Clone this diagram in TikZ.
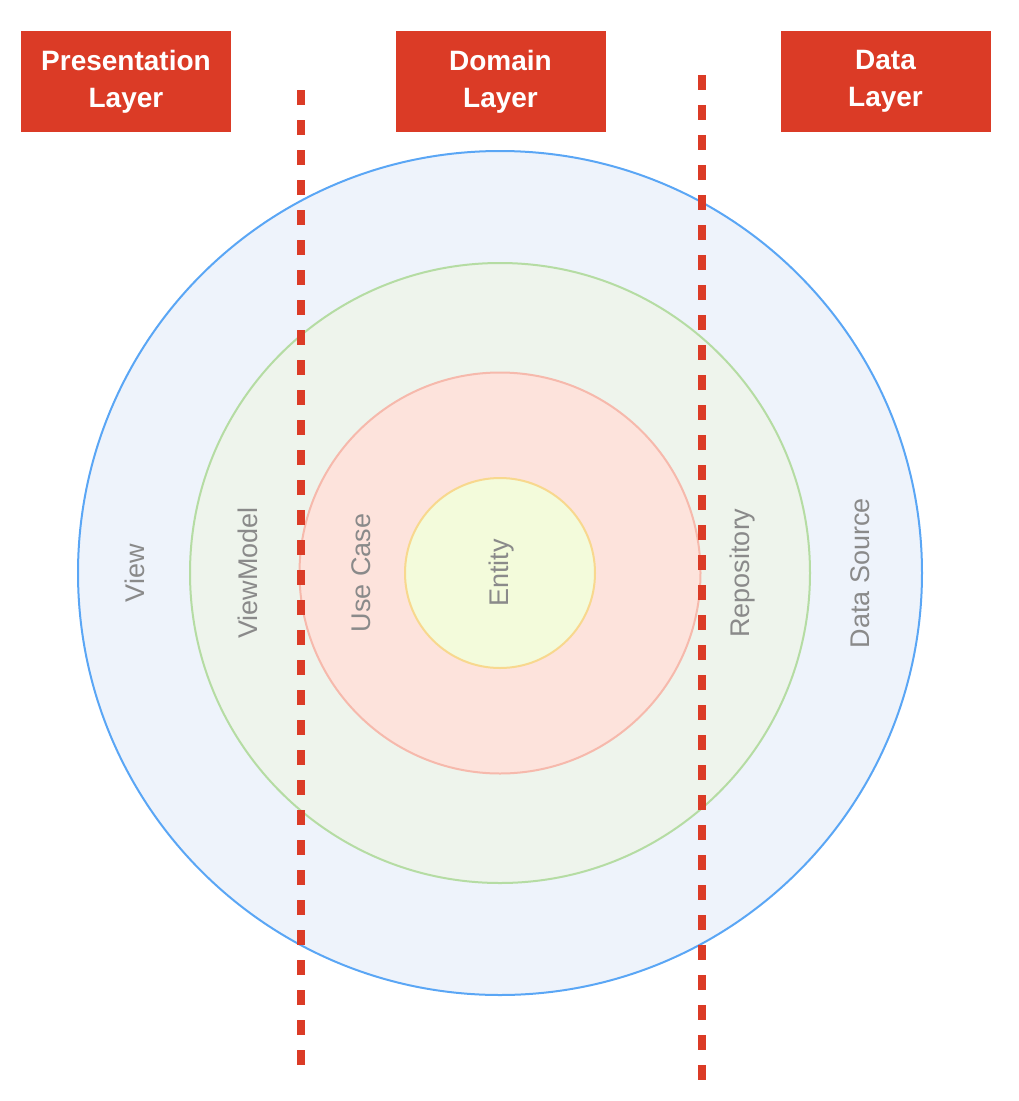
\documentclass[tikz,border=0pt]{standalone}
\usepackage{fontspec}
\setmainfont{Liberation Sans}
\definecolor{layerred}{HTML}{DB3B26}
\definecolor{outerfill}{HTML}{EEF3FB}
\definecolor{outerdraw}{HTML}{5AA6F5}
\definecolor{greenfill}{HTML}{EEF4EC}
\definecolor{greendraw}{HTML}{B5DCA3}
\definecolor{redfill}{HTML}{FDE3DC}
\definecolor{reddraw}{HTML}{F6B9AC}
\definecolor{yelfill}{HTML}{F3FBDB}
\definecolor{yeldraw}{HTML}{F8D88E}
\definecolor{labelgray}{HTML}{8A8A8A}
\tikzset{
  layerbox/.style={fill=layerred, draw=none, minimum width=210pt, minimum height=101pt,
    inner sep=0pt, text=white, align=center, font=\fontsize{28}{37}\selectfont\bfseries},
  ring/.style={circle, inner sep=0pt, line width=2pt},
  ringlabel/.style={rotate=90, text=labelgray, font=\fontsize{27}{32}\selectfont, inner sep=0pt},
  divider/.style={draw=layerred, line width=8pt, dash pattern=on 15pt off 15pt}
}
\begin{document}
\begin{tikzpicture}[x=1pt, y=-1pt]
\useasboundingbox (0,0) rectangle (1018,1101);
% rings
\node[ring, fill=outerfill, draw=outerdraw, minimum size=844pt] (outer) at (500,573) {};
\node[ring, fill=greenfill, draw=greendraw, minimum size=620pt] (green) at (500,573) {};
\node[ring, fill=redfill, draw=reddraw, minimum size=401pt] (red) at (500,573) {};
\node[ring, fill=yelfill, draw=yeldraw, minimum size=190pt] (yellow) at (500,573) {};
% ring labels
\node[ringlabel] (view) at (135,573) {View};
\node[ringlabel] (viewmodel) at (248,573) {ViewModel};
\node[ringlabel] (usecase) at (361,573) {Use Case};
\node[ringlabel] (entity) at (502,573) {Entity};
\node[ringlabel] (repository) at (743,573) {Repository};
\node[ringlabel] (datasource) at (860,573) {Data Source};
% layer boxes
\node[layerbox] (pres) at (126,81.5) {Presentation\\Layer};
\node[layerbox] (domain) at (500.5,81.5) {Domain\\Layer};
\node[layerbox] (data) at (885.5,81.5) {Data\\Layer};
% dividers
\coordinate (l1) at (301,90);
\coordinate (l2) at (301,1066);
\coordinate (r1) at (702,75);
\coordinate (r2) at (702,1081);
\draw[divider] (l1) -- (l2);
\draw[divider] (r1) -- (r2);
\end{tikzpicture}
\end{document}
